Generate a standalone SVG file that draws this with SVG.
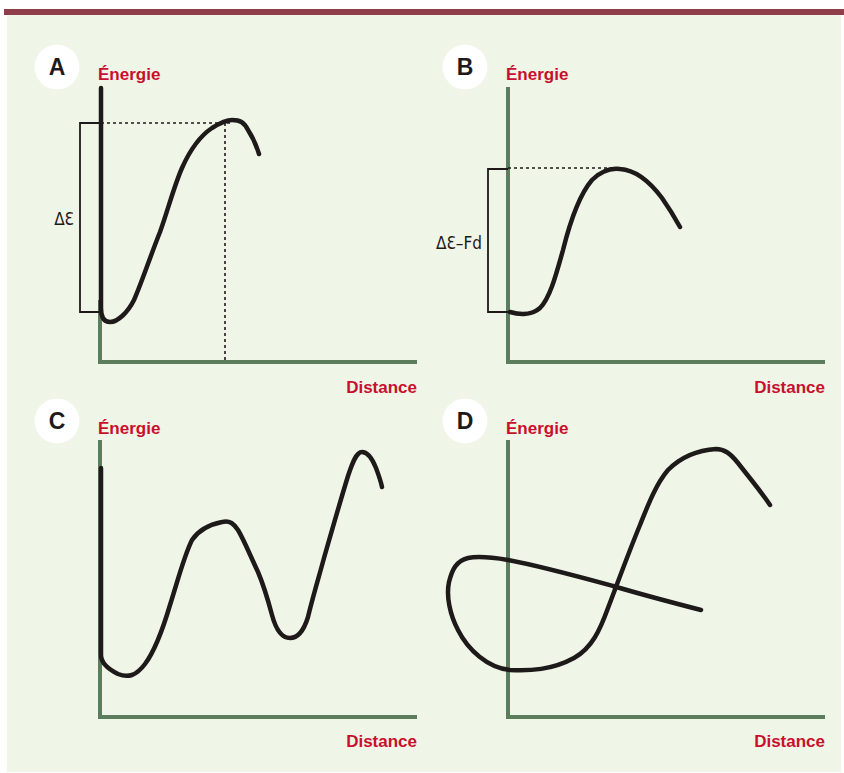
<svg xmlns="http://www.w3.org/2000/svg" width="844" height="773" viewBox="0 0 844 773">
<style>
.bg{fill:#eff5e7}
.axis{stroke:#5b7d5b;stroke-width:4;fill:none}
.curve{stroke:#1e1a1a;stroke-width:4.5;fill:none;stroke-linecap:round;stroke-linejoin:round}
.dot{stroke:#1e1a1a;stroke-width:1.6;stroke-dasharray:3 3;fill:none}
.brk{stroke:#1e1a1a;stroke-width:1.8;fill:none}
.badge{fill:#ffffff}
.letter{font-family:"Liberation Sans",Arial,sans-serif;font-weight:bold;font-size:23px;fill:#1e1a1a;text-anchor:middle}
.lab{font-family:"Liberation Sans",Arial,sans-serif;font-weight:bold;font-size:17px;fill:#c8102e}
.dist{text-anchor:end}
.delta{font-family:"DejaVu Sans Condensed","DejaVu Sans",sans-serif;font-size:17px;fill:#1e1a1a;text-anchor:end}
</style>
<rect x="0" y="0" width="844" height="773" fill="#ffffff"/>
<rect class="bg" x="7" y="14" width="834" height="758"/>
<rect x="4" y="9" width="840" height="6" fill="#8e3f4a"/>

<g id="panelA">
  <circle class="badge" cx="57" cy="67" r="22.5"/>
  <text class="letter" x="57" y="75">A</text>
  <text class="lab" x="98" y="80">Énergie</text>
  <text class="lab dist" x="417" y="393">Distance</text>
  <path class="axis" d="M100,300 V362 H417"/>
  <path class="dot" d="M101,123 H230 M225,123 V361"/>
  <path class="brk" d="M101,123 H80 V312 H101"/>
  <text class="delta" x="74" y="225">ΔƐ</text>
  <path class="curve" d="M101,88 V308 C101,318 104,322 110,322 C118,322 128,312 134,300 C142,282 150,257 160,232 C168,210 174,186 182,168 C190,150 200,136 212,128 C220,123 226,120 232,120 C240,120 244,122 248,130 C252,136 256,144 259,154"/>
</g>

<g id="panelB">
  <circle class="badge" cx="465" cy="67" r="22.5"/>
  <text class="letter" x="465" y="75">B</text>
  <text class="lab" x="506" y="80">Énergie</text>
  <text class="lab dist" x="825" y="393">Distance</text>
  <path class="axis" d="M508,87 V362 H825"/>
  <path class="dot" d="M508,168 H617"/>
  <path class="brk" d="M508,169 H488 V312 H508"/>
  <text class="delta" x="482" y="249">ΔƐ–Fd</text>
  <path class="curve" d="M510,312 C520,315 532,315 540,308 C550,298 556,275 563,250 C570,222 580,194 592,180 C602,170 612,168 620,169 C636,170 650,182 662,198 C669,208 675,218 680,227"/>
</g>

<g id="panelC">
  <circle class="badge" cx="57" cy="421" r="22.5"/>
  <text class="letter" x="57" y="429">C</text>
  <text class="lab" x="98" y="434">Énergie</text>
  <text class="lab dist" x="417" y="747">Distance</text>
  <path class="axis" d="M100,440 V717 H417"/>
  <path class="curve" d="M101,468 V655 C101,664 110,670 118,674 C128,678 136,676 145,664 C154,652 162,632 170,605 C178,580 184,556 192,540 C200,528 212,524 222,522 C230,520 234,524 238,530 C244,540 250,555 258,572 C264,586 268,600 272,615 C276,630 282,638 290,638 C298,638 304,630 308,617 C312,600 318,580 324,558 C332,530 340,502 348,476 C352,464 356,452 362,452 C368,452 372,458 376,468 C379,476 381,482 382,487"/>
</g>

<g id="panelD">
  <circle class="badge" cx="465" cy="421" r="22.5"/>
  <text class="letter" x="465" y="429">D</text>
  <text class="lab" x="506" y="434">Énergie</text>
  <text class="lab dist" x="825" y="747">Distance</text>
  <path class="axis" d="M508,440 V717 H825"/>
  <path class="curve" d="M701,610 C670,602 640,594 613,586 C580,577 540,566 508,560 C490,557 478,556 468,558 C456,561 452,570 449,582 C446,596 450,615 458,630 C468,650 488,668 510,670 C530,671 552,670 574,658 C592,648 600,630 608,608 C618,582 628,554 640,525 C648,505 656,484 668,470 C682,456 700,450 716,449 C724,449 730,453 738,463 C748,476 760,490 770,505"/>
</g>
</svg>
